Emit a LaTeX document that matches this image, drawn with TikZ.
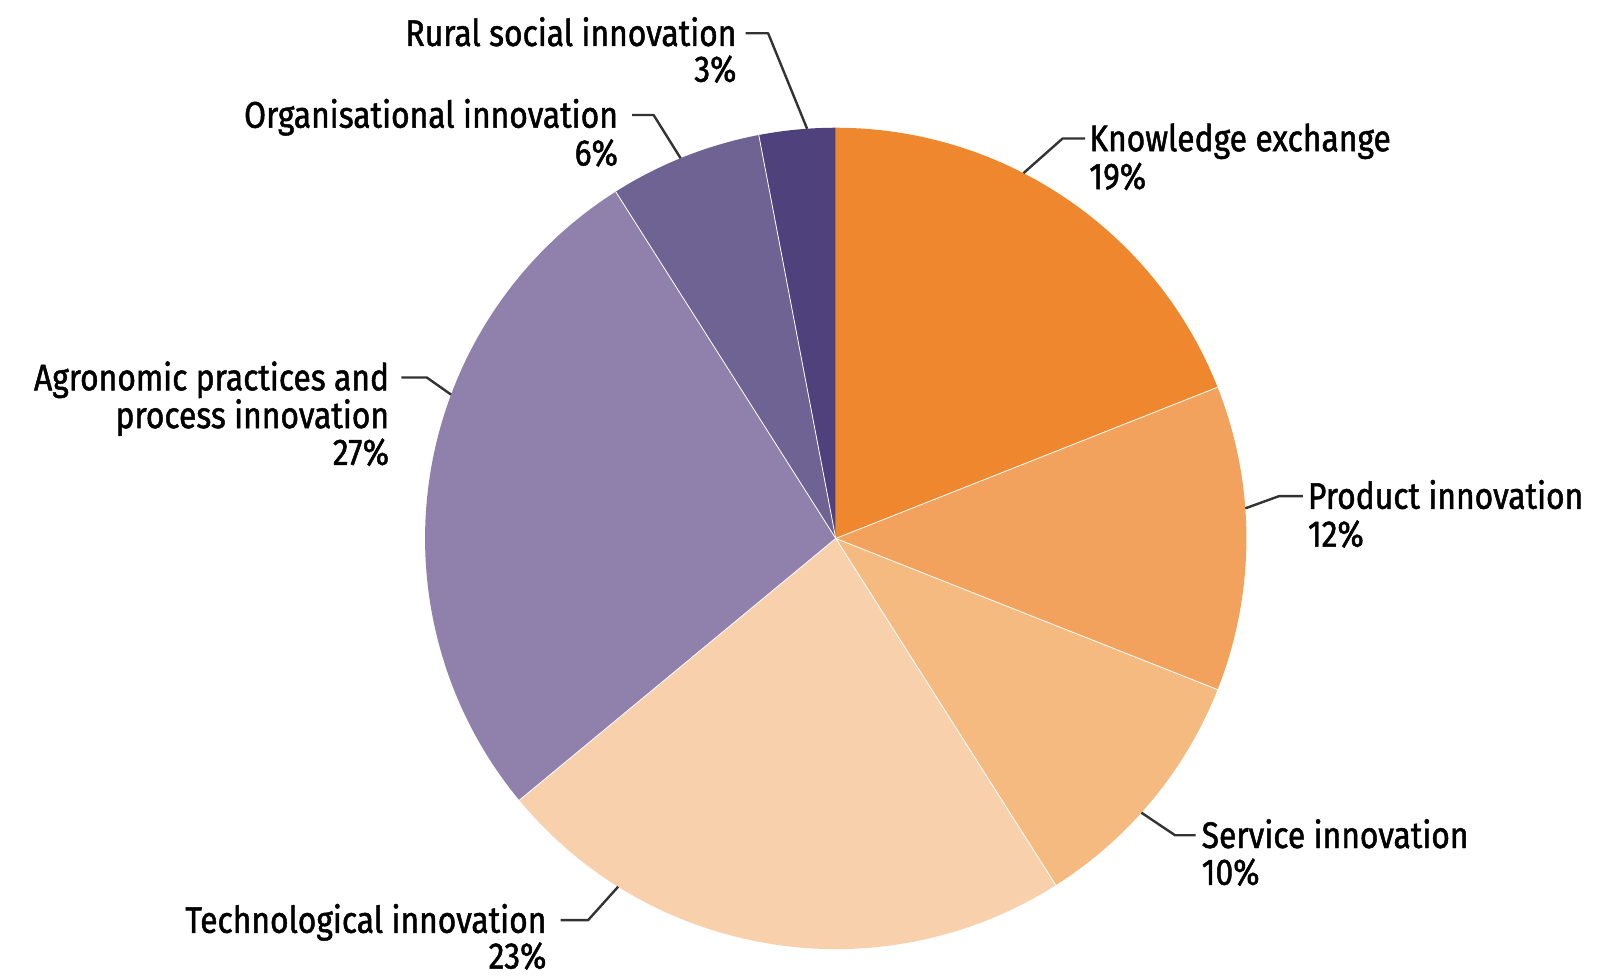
\documentclass[tikz,border=0pt]{standalone}
\usepackage{fontspec}
\setmainfont{Fira Sans}[FakeStretch=0.86,FakeBold=1.3]
\definecolor{cKE}{HTML}{EE872D}
\definecolor{cPR}{HTML}{F2A25C}
\definecolor{cSE}{HTML}{F5BA80}
\definecolor{cTE}{HTML}{F8D1AC}
\definecolor{cAG}{HTML}{8F81AC}
\definecolor{cOR}{HTML}{6F6393}
\definecolor{cRU}{HTML}{4F417C}
\begin{document}
\begin{tikzpicture}[x=1.0217pt,y=-1.0217pt,
  lbl/.style={inner sep=0pt, font=\fontsize{37}{44}\selectfont, text height=25.5pt, text depth=0pt},
  leader/.style={draw=black!80, line width=2.4pt, line join=round},
  sep/.style={draw=white, line width=0.8pt}]
\useasboundingbox (0,0) rectangle (1568,956);
\coordinate (c) at (818,527);
\def\R{410.7pt}
% slices
\fill[cKE] (c) -- ++(90:\R) arc[start angle=90,end angle=21.6,radius=\R] -- cycle;
\fill[cPR] (c) -- ++(21.6:\R) arc[start angle=21.6,end angle=-21.6,radius=\R] -- cycle;
\fill[cSE] (c) -- ++(-21.6:\R) arc[start angle=-21.6,end angle=-57.6,radius=\R] -- cycle;
\fill[cTE] (c) -- ++(-57.6:\R) arc[start angle=-57.6,end angle=-140.4,radius=\R] -- cycle;
\fill[cAG] (c) -- ++(-140.4:\R) arc[start angle=-140.4,end angle=-237.6,radius=\R] -- cycle;
\fill[cOR] (c) -- ++(-237.6:\R) arc[start angle=-237.6,end angle=-259.2,radius=\R] -- cycle;
\fill[cRU] (c) -- ++(-259.2:\R) arc[start angle=-259.2,end angle=-270,radius=\R] -- cycle;
\foreach \a in {21.6,-21.6,-57.6,-140.4,-237.6,-259.2}{\draw[sep] (c) -- ++(\a:\R);}
% leader end points on the pie
\path (c) ++(62.8:\R) coordinate (pKE);
\path (c) ++(4.2:\R) coordinate (pPR);
\path (c) ++(-41.9:\R) coordinate (pSE);
\path (c) ++(238:\R) coordinate (pTE);
\path (c) ++(159.5:\R) coordinate (pAG);
\path (c) ++(112.2:\R) coordinate (pOR);
\path (c) ++(94:\R) coordinate (pRU);
% labels
\node[lbl, anchor=base west] (ke) at (1066,148) {Knowledge exchange};
\node[lbl, anchor=base west] (kep) at (1066,185) {19\%};
\node[lbl, anchor=base west] (pr) at (1280,498) {Product innovation};
\node[lbl, anchor=base west] (prp) at (1280,535) {12\%};
\node[lbl, anchor=base west] (se) at (1176,830) {Service innovation};
\node[lbl, anchor=base west] (sep) at (1176,866) {10\%};
\node[lbl, anchor=base east] (te) at (535,913) {Technological innovation};
\node[lbl, anchor=base east] (tep) at (535,948) {23\%};
\node[lbl, anchor=base east] (ag) at (381,382) {Agronomic practices and};
\node[lbl, anchor=base east] (ag2) at (381,419) {process innovation};
\node[lbl, anchor=base east] (agp) at (381,455) {27\%};
\node[lbl, anchor=base east] (or) at (605,125) {Organisational innovation};
\node[lbl, anchor=base east] (orp) at (605,162) {6\%};
\node[lbl, anchor=base east] (ru) at (721,45) {Rural social innovation};
\node[lbl, anchor=base east] (rup) at (721,80) {3\%};
% leaders
\draw[leader] ([xshift=-4pt]ke.west) -- ++(-22,0) -- (pKE);
\draw[leader] ([xshift=-5pt]pr.west) -- ++(-23,0) -- (pPR);
\draw[leader] ([xshift=-6pt]se.west) -- ++(-20,0) -- (pSE);
\draw[leader] ([xshift=14pt]te.east) -- ++(27,0) -- (pTE);
\draw[leader] ([xshift=12pt]ag.east) -- ++(25,0) -- (pAG);
\draw[leader] ([xshift=14pt]or.east) -- ++(21,0) -- (pOR);
\draw[leader] ([xshift=9pt]ru.east) -- ++(22,0) -- (pRU);
\end{tikzpicture}
\end{document}
